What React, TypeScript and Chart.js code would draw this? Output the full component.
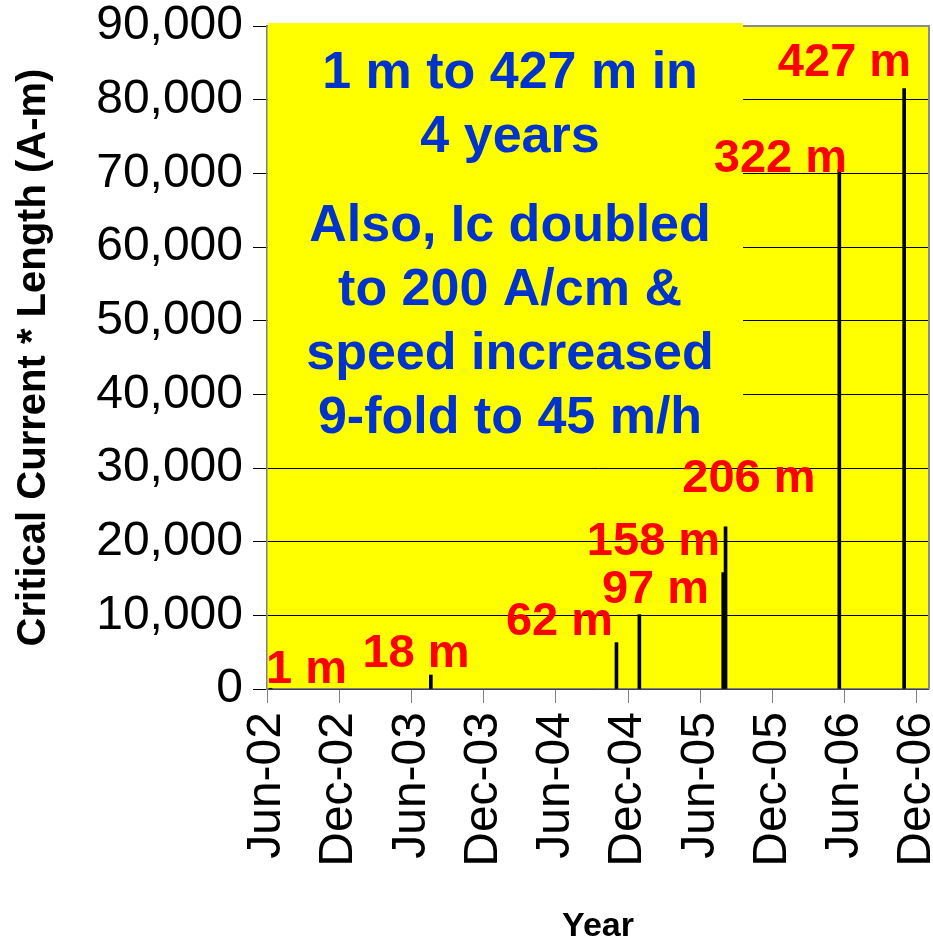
import React, { useEffect, useRef } from "react";
import { Chart, registerables } from "chart.js";

Chart.register(...registerables);

// ---- data ----
const runDates = ["2002-06-10", "2003-07-20", "2004-11-02", "2004-12-30", "2005-07-29", "2005-08-04", "2006-05-18", "2006-10-30"];
const runLengths = ["1 m", "18 m", "62 m", "97 m", "158 m", "206 m", "322 m", "427 m"];
const currentTimesLength = [100, 1900, 6300, 10100, 15800, 22000, 70500, 81500];

const tickMonths = [0, 6, 12, 18, 24, 30, 36, 42, 48, 54];
const tickLabels = ["Jun-02", "Dec-02", "Jun-03", "Dec-03", "Jun-04", "Dec-04", "Jun-05", "Dec-05", "Jun-06", "Dec-06"];

// label placement (x in months since Jun-02, y in A-m), centre / baseline
const labelAnchorMonths = [3.28, 12.38, 24.3, 32.28, 32.11, 40.04, 42.66, 47.98];
const labelAnchorValues = [814, 2990, 7330, 11670, 18190, 26740, 70180, 83210];

const noteLines1 = ["1 m to 427 m in", "4 years"];
const noteLines2 = ["Also, Ic doubled", "to 200 A/cm &", "speed increased", "9-fold to 45 m/h"];

const FONT = "'Liberation Sans', Arial, Helvetica, sans-serif";

function monthsSinceStart(d: string) {
  const [y, m, day] = d.split("-").map(Number);
  const dim = new Date(y, m, 0).getDate();
  return (y - 2002) * 12 + (m - 6) + (day - 1) / dim;
}

const decorPlugin = {
  id: "decor",
  beforeDraw(chart: any) {
    const { ctx, chartArea: a } = chart;
    ctx.save();
    ctx.fillStyle = "#FFFF00";
    ctx.fillRect(a.left, a.top, a.right - a.left, a.bottom - a.top);
    ctx.restore();
  },
  beforeDatasetsDraw(chart: any) {
    const { ctx, chartArea: a, scales } = chart;
    const x = scales.x, y = scales.y;
    ctx.save();
    // top & right frame
    ctx.strokeStyle = "#8c8c8c";
    ctx.lineWidth = 2;
    ctx.beginPath();
    ctx.moveTo(a.left, a.top);
    ctx.lineTo(a.right, a.top);
    ctx.lineTo(a.right, a.bottom);
    ctx.stroke();
    // yellow note box
    const bx0 = a.left + 1;
    const bx1 = x.getPixelForValue(39.55);
    const by0 = a.top - 3;
    const by1 = y.getPixelForValue(33000);
    ctx.fillStyle = "#FFFF00";
    ctx.fillRect(bx0, by0, bx1 - bx0, by1 - by0);
    ctx.restore();
  },
  afterDatasetsDraw(chart: any) {
    const { ctx, scales } = chart;
    const x = scales.x, y = scales.y;
    ctx.save();
    ctx.textAlign = "center";
    ctx.textBaseline = "alphabetic";
    ctx.fillStyle = "#FF0000";
    ctx.font = `bold 47px ${FONT}`;
    runLengths.forEach((t, i) => {
      ctx.fillText(t, x.getPixelForValue(labelAnchorMonths[i]), y.getPixelForValue(labelAnchorValues[i]));
    });
    ctx.fillStyle = "#0033CC";
    ctx.font = `bold 52px ${FONT}`;
    const cx = x.getPixelForValue(20.19);
    const y1 = y.getPixelForValue(81580);
    noteLines1.forEach((t, i) => ctx.fillText(t, cx, y1 + i * 64));
    const y2 = y.getPixelForValue(60810);
    noteLines2.forEach((t, i) => ctx.fillText(t, cx, y2 + i * 64));
    ctx.restore();
  },
};

export default function App() {
  const ref = useRef<HTMLCanvasElement | null>(null);
  useEffect(() => {
    if (!ref.current) return;
    const points = runDates.map((d, i) => ({ x: monthsSinceStart(d), y: currentTimesLength[i] }));
    const chart = new Chart(ref.current, {
      type: "bar",
      data: {
        datasets: [
          {
            data: points as any,
            backgroundColor: "#000000",
            borderWidth: 0,
            barThickness: 3,
          },
        ],
      },
      options: {
        animation: false,
        responsive: false,
        devicePixelRatio: 1,
        layout: { padding: { left: 0, right: 4, top: 26, bottom: 0 } },
        plugins: { legend: { display: false }, tooltip: { enabled: false } },
        scales: {
          x: {
            type: "linear",
            min: 0,
            max: 55,
            offset: false,
            grid: { display: true, drawOnChartArea: false, drawTicks: true, tickLength: 14, color: "#808080", offset: false },
            border: { display: true, color: "#808080", width: 1.5 },
            afterBuildTicks: (scale: any) => {
              scale.ticks = tickMonths.map((v) => ({ value: v }));
            },
            afterFit: (scale: any) => {
              scale.height = 255;
              scale.paddingLeft = 0;
              scale.paddingRight = 0;
            },
            ticks: {
              autoSkip: false,
              minRotation: 90,
              maxRotation: 90,
              padding: 9,
              color: "#000000",
              font: { family: FONT, size: 48 },
              callback: (_v: any, i: number) => tickLabels[i],
            },
            title: {
              display: true,
              text: "Year",
              color: "#000000",
              font: { family: FONT, size: 34, weight: "bold", lineHeight: 1 },
              padding: { top: 0, bottom: 0 },
            },
          },
          y: {
            type: "linear",
            min: 0,
            max: 90000,
            grid: { color: "#000000", lineWidth: 1, drawTicks: true, tickLength: 14 },
            border: { display: true, color: "#808080", width: 1.5 },
            afterFit: (scale: any) => {
              scale.width = 267;
              scale.paddingTop = 0;
              scale.paddingBottom = 0;
            },
            ticks: {
              stepSize: 10000,
              padding: 10,
              color: "#000000",
              font: { family: FONT, size: 48 },
              callback: (v: any) => Number(v).toLocaleString("en-US"),
            },
            title: {
              display: true,
              text: "Critical Current * Length (A-m)",
              color: "#000000",
              font: { family: FONT, size: 40, weight: "bold" },
              padding: { top: 10, bottom: 0 },
            },
          },
        },
      },
      plugins: [decorPlugin],
    });
    return () => chart.destroy();
  }, []);
  return (
    <div style={{ position: "absolute", left: 0, top: 0, width: 933, height: 944, background: "#ffffff" }}>
      <canvas ref={ref} width={933} height={944} style={{ display: "block", width: 933, height: 944 }} />
    </div>
  );
}
